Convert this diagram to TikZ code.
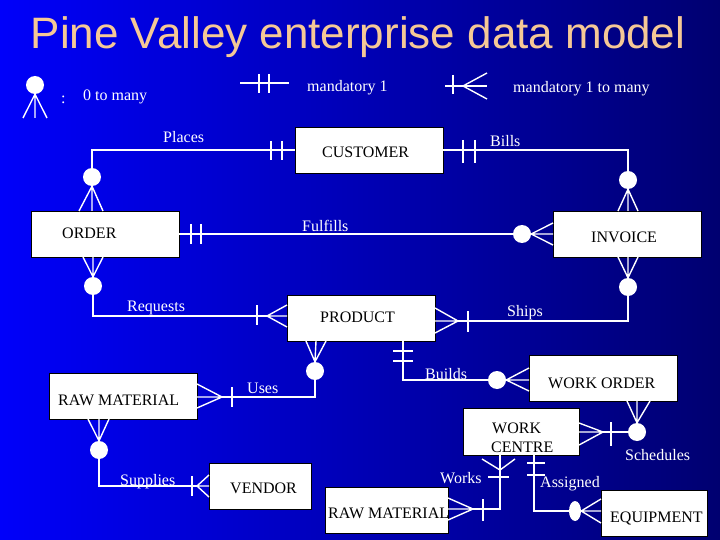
\documentclass[tikz,border=0pt]{standalone}
\usepackage{fontspec}
\setmainfont{Liberation Serif}
\newfontfamily\titlefont{Liberation Sans}
\usetikzlibrary{shapes.geometric}
\definecolor{bgleft}{RGB}{0,0,250}
\definecolor{bgmid}{RGB}{0,0,225}
\definecolor{bgright}{RGB}{0,0,112}
\definecolor{titlecol}{RGB}{245,200,150}
\begin{document}
\begin{tikzpicture}[x=1pt,y=-1pt,
  conn/.style={draw=white,line width=1.4pt},
  entity/.style={draw=black,fill=white,line width=0.6pt,minimum width=148pt,minimum height=46pt,inner sep=0pt},
  etxt/.style={text=black,anchor=base west,inner sep=0pt,font=\fontsize{16}{19}\selectfont},
  ltxt/.style={text=white,anchor=base west,inner sep=0pt,font=\fontsize{16}{19}\selectfont},
  dot/.style={circle,fill=white,draw=none,minimum size=18pt,inner sep=0pt}]
\useasboundingbox (0,0) rectangle (720,540);
\shade[left color=bgleft,middle color=bgmid,right color=bgright] (0,0) rectangle (720,540);

% title
\node[text=titlecol,anchor=base,inner sep=0pt,font=\titlefont\fontsize{44}{48}\selectfont] (title) at (358,49) {Pine Valley enterprise data model};

% legend
\node[dot] (lg0) at (35,85) {};
\draw[conn] (lg0.south) -- (23,118) (lg0.south) -- (35,118) (lg0.south) -- (47,118);
\node[ltxt] (lgcolon) at (61,104) {:};
\node[ltxt] (lgt0) at (83,101) {0 to many};
\coordinate (lg1a) at (240,83); \coordinate (lg1b) at (289,83);
\draw[conn] (lg1a) -- (lg1b);
\draw[conn] (259,74) -- (259,93) (269,74) -- (269,93);
\node[ltxt] (lgt1) at (307,92) {mandatory 1};
\coordinate (lg2a) at (445,86); \coordinate (lg2b) at (487,86);
\draw[conn] (lg2a) -- (lg2b);
\draw[conn] (453,75) -- (453,94);
\draw[conn] (463,86) -- (487,73) (463,86) -- (487,99);
\node[ltxt] (lgt2) at (513,93) {mandatory 1 to many};

% entities
\node[entity] (customer) at (369,150) {};
\node[etxt] at (322,158) {CUSTOMER};
\node[entity] (order) at (105,234) {};
\node[etxt] at (62,238) {ORDER};
\node[entity] (invoice) at (627,234) {};
\node[etxt] at (591,242) {INVOICE};
\node[entity] (product) at (361,318) {};
\node[etxt] at (320,322) {PRODUCT};
\node[entity] (workorder) at (603,378) {};
\node[etxt] at (548,388) {WORK ORDER};
\node[entity] (rawmat) at (123,396) {};
\node[etxt] at (58,405) {RAW MATERIAL};
\node[entity,minimum width=102pt] (vendor) at (260,486) {};
\node[etxt] at (230,493) {VENDOR};
\node[entity,minimum width=116pt,minimum height=47pt] (workcentre) at (521,431.5) {};
\node[etxt] at (492,433) {WORK};
\node[etxt] at (491,452) {CENTRE};
\node[entity,minimum width=123pt] (rawmat2) at (386.5,510) {};
\node[etxt] at (328,518) {RAW MATERIAL};
\node[entity,minimum width=106pt] (equipment) at (654,513) {};
\node[etxt] at (610,522) {EQUIPMENT};

% Places: CUSTOMER -- ORDER
\node[dot] (c1) at (92,177) {};
\draw[conn] (c1.north) |- (customer.west);
\draw[conn] (271,141) -- (271,160) (282,141) -- (282,160);
\draw[conn] (c1.south) -- (79,211) (c1.south) -- (92,211) (c1.south) -- (103,211);
\node[ltxt] at (163,143) {Places};

% Bills: CUSTOMER -- INVOICE
\node[dot] (c2) at (628,180) {};
\draw[conn] (customer.east) -| (c2.north);
\draw[conn] (463,140) -- (463,163) (475,140) -- (475,163);
\draw[conn] (c2.south) -- (618,211) (c2.south) -- (628,211) (c2.south) -- (638,211);
\node[ltxt] at (490,147) {Bills};

% Fulfills: ORDER -- INVOICE
\node[dot] (c3) at (522,234) {};
\draw[conn] (order.east) -- (c3.west);
\draw[conn] (191,224) -- (191,244) (201,224) -- (201,244);
\draw[conn] (c3.east) -- (553,223) (c3.east) -- (553,234) (c3.east) -- (553,245);
\node[ltxt] at (302,231) {Fulfills};

% Requests: ORDER -- PRODUCT
\node[dot] (c4) at (93,286) {};
\coordinate (reqtip) at (267,316);
\draw[conn] (c4.north) -- (83,257) (c4.north) -- (93,257) (c4.north) -- (103,257);
\draw[conn] (c4.south) |- (reqtip);
\draw[conn] (257,305) -- (257,325);
\draw[conn] (reqtip) -- (287,305) (reqtip) -- (287,316) (reqtip) -- (287,327);
\node[ltxt] at (127,311) {Requests};

% Ships: PRODUCT -- INVOICE
\node[dot] (c5) at (628,287) {};
\coordinate (shiptip) at (458,321);
\draw[conn] (c5.north) -- (618,257) (c5.north) -- (628,257) (c5.north) -- (638,257);
\draw[conn] (shiptip) -| (c5.south);
\draw[conn] (468,311) -- (468,332);
\draw[conn] (shiptip) -- (435,308) (shiptip) -- (435,321) (shiptip) -- (435,333);
\node[ltxt] at (507,316) {Ships};

% Builds: PRODUCT -- WORK ORDER
\node[dot] (c6) at (497,380) {};
\coordinate (bldtop) at (403,341);
\draw[conn] (bldtop) |- (c6.west);
\draw[conn] (393,351) -- (413,351) (393,361) -- (413,361);
\draw[conn] (c6.east) -- (529,368) (c6.east) -- (529,380) (c6.east) -- (529,391);
\node[ltxt] at (425,379) {Builds};

% Uses: PRODUCT -- RAW MATERIAL
\node[dot] (c7) at (315,371) {};
\coordinate (usetip) at (222,397);
\draw[conn] (c7.north) -- (306,341) (c7.north) -- (316,341) (c7.north) -- (326,341);
\draw[conn] (c7.south) |- (usetip);
\draw[conn] (232,387) -- (232,407);
\draw[conn] (usetip) -- (197,384) (usetip) -- (197,397) (usetip) -- (197,408);
\node[ltxt] at (247,393) {Uses};

% Supplies: RAW MATERIAL -- VENDOR
\node[dot] (c8) at (99,450) {};
\coordinate (suptip) at (197,486);
\draw[conn] (c8.north) -- (88,419) (c8.north) -- (99,419) (c8.north) -- (109,419);
\draw[conn] (c8.south) |- (suptip);
\draw[conn] (192,476) -- (192,496);
\draw[conn] (suptip) -- (209,475) (suptip) -- (209,486) (suptip) -- (209,497);
\node[ltxt] at (120,485) {Supplies};

% Schedules: WORK ORDER -- WORK CENTRE
\node[dot] (c9) at (637,432) {};
\coordinate (schtip) at (603,432);
\draw[conn] (c9.north) -- (627,401) (c9.north) -- (637,401) (c9.north) -- (650,401);
\draw[conn] (c9.west) -- (schtip);
\draw[conn] (611,422) -- (611,446);
\draw[conn] (schtip) -- (579,423) (schtip) -- (579,432) (schtip) -- (579,445);
\node[ltxt] at (625,460) {Schedules};

% Works: WORK CENTRE -- RAW MATERIAL
\coordinate (wktop) at (500,455);
\coordinate (wkfork) at (500,470);
\coordinate (wktip) at (473,509);
\draw[conn] (wktop) |- (wktip);
\draw[conn] (482,459) -- (wkfork) -- (515,459);
\draw[conn] (488,477) -- (509,477);
\draw[conn] (483,499) -- (483,521);
\draw[conn] (wktip) -- (448,498) (wktip) -- (448,509) (wktip) -- (448,520);
\node[ltxt] at (440,483) {Works};

% Assigned: WORK CENTRE -- EQUIPMENT
\node[ellipse,fill=white,minimum width=12pt,minimum height=20pt,inner sep=0pt] (c10) at (575,511) {};
\coordinate (astop) at (534,455);
\draw[conn] (astop) |- (c10.west);
\draw[conn] (527,463) -- (545,463) (527,475) -- (545,475);
\draw[conn] (c10.east) -- (601,499) (c10.east) -- (601,511) (c10.east) -- (601,523);
\node[ltxt] at (540,487) {Assigned};
\end{tikzpicture}
\end{document}
